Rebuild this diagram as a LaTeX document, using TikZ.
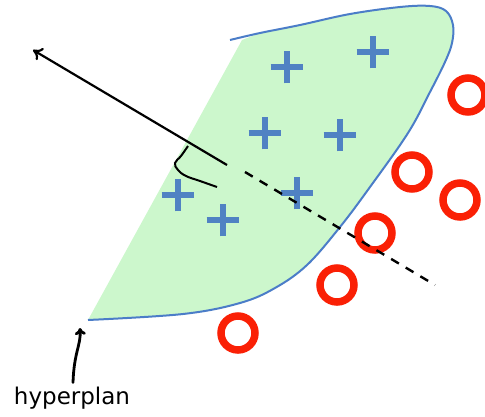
\documentclass[tikz,border=0pt]{standalone}
\usepackage{fontspec}
\setsansfont{DejaVu Sans}
\usetikzlibrary{shapes.misc,arrows.meta}
\definecolor{zonegreen}{RGB}{204,247,204}
\definecolor{edgeblue}{RGB}{75,125,200}
\definecolor{plusblue}{RGB}{80,130,195}
\definecolor{ringred}{RGB}{250,32,5}
\begin{document}
\begin{tikzpicture}[
        x=1pt, y=-1pt,
        every node/.style={inner sep=0pt, outer sep=0pt},
        plus/.style={draw=plusblue, cross out, rotate=45, minimum size=23pt, line width=6pt},
        ring/.style={circle, draw=ringred, line width=7.5pt, minimum size=34pt},
        bord/.style={draw=edgeblue, line width=2pt},
        normale/.style={-{To[length=9pt, width=14pt]}, line width=2.2pt},
        fleche/.style={-{To[length=7pt, width=11pt]}, line width=2.8pt, line cap=round}
    ]
    \useasboundingbox (0,0) rectangle (485,416);

    % zone des positifs
    \fill[zonegreen] (88,320) -- (242,40)
        -- plot[smooth, tension=0.6] coordinates {(260,33) (300,25) (350,14) (400,7) (430,6) (446,11) (453,25) (452,43) (445,62) (430,92) (408,133) (370,187) (340,227) (307,265) (275,288) (240,303) (183,314) (88,320)}
        -- cycle;
    \draw[bord] plot[smooth, tension=0.6] coordinates {(230,40) (260,33) (300,25) (350,14) (400,7) (430,6) (446,11) (453,25) (452,43) (445,62) (430,92) (408,133) (370,187) (340,227) (307,265) (275,288) (240,303) (183,314) (88,320)};

    % exemples positifs
    \node[plus] (p1) at (287,67) {};
    \node[plus] (p2) at (373,52) {};
    \node[plus] (p3) at (265,133) {};
    \node[plus] (p4) at (340,135) {};
    \node[plus] (p5) at (178,195) {};
    \node[plus] (p6) at (297,193) {};
    \node[plus] (p7) at (223,220) {};

    % exemples negatifs
    \node[ring] (n1) at (468,95) {};
    \node[ring] (n2) at (412,172) {};
    \node[ring] (n3) at (460,200) {};
    \node[ring] (n4) at (375,233) {};
    \node[ring] (n5) at (337,285) {};
    \node[ring] (n6) at (238,333) {};

    % vecteur normal et hyperplan
    \coordinate (pied) at (227,165);
    \coordinate (bout) at (33,50);
    \coordinate (debut) at (245,172);
    \coordinate (fin) at (435,285);
    \draw[normale] (pied) -- (bout);
    \draw[line width=2.4pt, dash pattern=on 9pt off 8pt] (debut) -- (fin);
    \draw[line width=2pt] plot[smooth, tension=0.7] coordinates {(188,146) (181,156) (175,163) (178,170) (186,176) (200,181) (217,187)};

    \node[font=\sffamily\fontsize{23}{26}\selectfont, anchor=base] (hyp) at (72,404) {hyperplan};
    \coordinate (coin) at (80,328);
    \draw[fleche] (hyp.north) ++(1,-4) .. controls (74,352) and (81,345) .. (coin);
\end{tikzpicture}
\end{document}
